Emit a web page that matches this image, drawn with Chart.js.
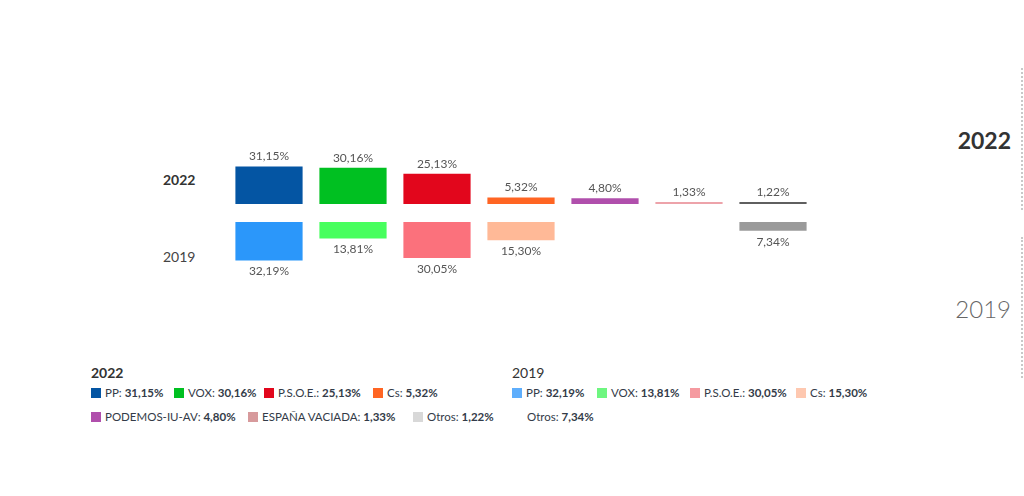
<!DOCTYPE html>
<html>
<head>
<meta charset="utf-8">
<script src="https://cdn.jsdelivr.net/npm/chart.js@4"></script>
<style>
  body { margin: 0; width: 1024px; height: 496px; background: #fff; font-family: Lato, "Open Sans", sans-serif; position: relative; overflow: hidden; }
  .abs { position: absolute; white-space: nowrap; }
  #wrap { position: absolute; left: 227px; top: 140px; width: 588px; height: 150px; }
  .row { font-size: 14px; line-height: 16px; color: #333; }
  .side { right: 13px; line-height: 26px; }
  .dots { position: absolute; left: 1021px; width: 0; border-left: 2px dotted #c8c8c8; }
  .lg-title { font-size: 14px; line-height: 16px; color: #333; }
  .lg-item { font-size: 11.5px; line-height: 14px; color: #333b48; }
  .lg-item i { display: inline-block; width: 10px; height: 10px; margin-right: 4px; vertical-align: -1px; }
  .lg-item b { font-weight: 700; }
</style>
</head>
<body>
<div class="abs row" style="left:163px;top:172px;font-weight:700;">2022</div>
<div class="abs row" style="left:163px;top:249px;color:#444;">2019</div>

<div class="abs side" style="top:127px;font-size:23px;font-weight:700;color:#333;">2022</div>
<div class="abs side" style="top:296px;font-size:24px;font-weight:300;color:#666;">2019</div>
<div class="dots" style="top:68px;height:142px;"></div>
<div class="dots" style="top:237px;height:141px;"></div>

<div id="wrap"><canvas id="chart"></canvas></div>

<div id="legend"></div>

<script>
const categories = ['PP', 'VOX', 'P.S.O.E.', 'Cs', 'PODEMOS-IU-AV', 'ESPAÑA VACIADA', 'Otros'];
const values2022 = [31.15, 30.16, 25.13, 5.32, 4.80, 1.33, 1.22];
const values2019 = [32.19, 13.81, 30.05, 15.30, null, null, 7.34];
const colors2022 = ['#0455a3', '#00c021', '#e2061c', '#ff6523', '#b04fac', '#eda3aa', '#5f5f5f'];
const colors2019 = ['#2b97fa', '#47ff5e', '#fb717c', '#ffb997', null, null, '#9a9a9a'];
const legend2022Colors = ['#0455a3', '#00c021', '#e2061c', '#ff6523', '#b04fac', '#d79a9c', '#d8d8d8'];
const legend2019Colors = ['#5eaefc', '#6ef680', '#f59aa0', '#fec8b0', null, null, null];

const gap = 7.5;
const fmt = v => v.toFixed(2).replace('.', ',') + '%';

const valueLabels = {
  id: 'valueLabels',
  afterDatasetsDraw(chart) {
    const ctx = chart.ctx;
    ctx.save();
    ctx.font = '12px Lato, sans-serif';
    ctx.fillStyle = '#555';
    ctx.textAlign = 'center';
    ctx.textBaseline = 'middle';
    chart.data.datasets.forEach((ds, i) => {
      const meta = chart.getDatasetMeta(i);
      const raw = i === 0 ? values2022 : values2019;
      meta.data.forEach((el, j) => {
        if (raw[j] == null) return;
        const y = i === 0 ? el.y - 10 : el.y + 11;
        ctx.fillText(fmt(raw[j]), el.x, y);
      });
    });
    ctx.restore();
  }
};

new Chart(document.getElementById('chart'), {
  type: 'bar',
  data: {
    labels: categories,
    datasets: [{
      label: '2022',
      data: values2022.map(v => [gap, gap + v]),
      backgroundColor: colors2022,
      grouped: false,
      barPercentage: 0.8,
      categoryPercentage: 1,
      minBarLength: 2
    }, {
      label: '2019',
      data: values2019.map(v => v == null ? null : [-gap, -gap - v]),
      backgroundColor: colors2019,
      grouped: false,
      barPercentage: 0.8,
      categoryPercentage: 1
    }]
  },
  options: {
    responsive: true,
    maintainAspectRatio: false,
    animation: false,
    layout: { padding: 0 },
    plugins: { legend: { display: false }, tooltip: { enabled: false } },
    scales: {
      x: { display: false },
      y: { display: false, min: -64.2, max: 60.8 }
    }
  },
  plugins: [valueLabels]
});

// leyenda
const legend = document.getElementById('legend');
const addText = (html, left, top, cls) => {
  const d = document.createElement('div');
  d.className = 'abs ' + cls;
  d.style.left = left + 'px';
  d.style.top = top + 'px';
  d.innerHTML = html;
  legend.appendChild(d);
};
addText('<b>2022</b>', 91, 365, 'lg-title');
addText('2019', 512, 365, 'lg-title');
const pos2022 = [[91, 386], [174, 386], [264, 386], [373, 386], [91, 410], [248, 410], [413, 410]];
const pos2019 = [[512, 386], [597, 386], [690, 386], [796, 386], null, null, [513, 410]];
categories.forEach((c, i) => {
  addText('<i style="background:' + legend2022Colors[i] + '"></i>' + c + ': <b>' + fmt(values2022[i]) + '</b>',
    pos2022[i][0], pos2022[i][1], 'lg-item');
  if (values2019[i] != null) {
    const col = legend2019Colors[i] || 'transparent';
    addText('<i style="background:' + col + '"></i>' + c + ': <b>' + fmt(values2019[i]) + '</b>',
      pos2019[i][0], pos2019[i][1], 'lg-item');
  }
});
</script>
</body>
</html>
